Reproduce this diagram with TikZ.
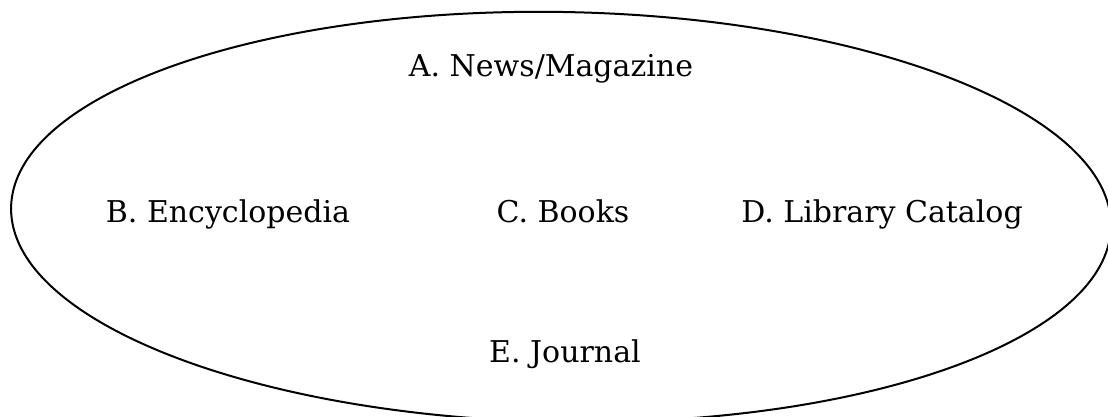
\documentclass[tikz,border=0pt]{standalone}
\usepackage{fontspec}
\setmainfont{DejaVu Serif}
\begin{document}
\begin{tikzpicture}[x=1pt,y=-1pt,
        source/.style={font=\fontsize{30}{34}\selectfont, inner sep=0pt, anchor=base}]
                \useasboundingbox (0,0) rectangle (1108,417);
                \clip (0,0) rectangle (1108,417);
                \draw[line width=2pt, rotate around={-1:(561,217)}] (561,217) ellipse [x radius=550, y radius=205];

                \node[source] (news) at (551,77) {A. News/Magazine};
                \node[source] (ency) at (228,222) {B. Encyclopedia};
                \node[source] (books) at (563,222) {C. Books};
                \node[source] (cat) at (882,222) {D. Library Catalog};
                \node[source] (jour) at (565,362) {E. Journal};
            \end{tikzpicture}
\end{document}
